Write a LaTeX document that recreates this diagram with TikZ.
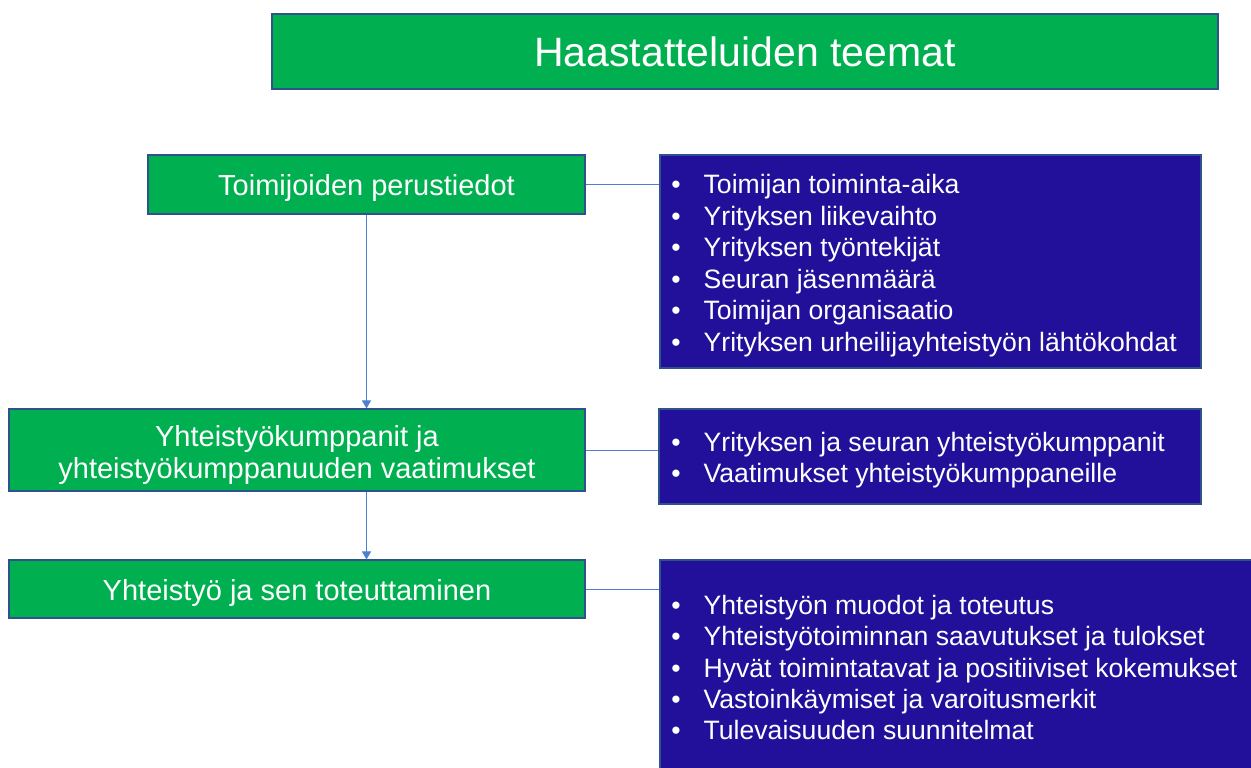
\documentclass[tikz,border=0pt]{standalone}
\usepackage{fontspec}
\setmainfont{Liberation Sans}
\usetikzlibrary{arrows.meta}
\definecolor{gfill}{HTML}{00B050}
\definecolor{pfill}{HTML}{22109B}
\definecolor{bord}{HTML}{2F528F}
\definecolor{conn}{HTML}{4F7FD0}
\tikzset{
  gbox/.style={draw=bord, line width=0.9pt, fill=gfill, text=white, inner sep=0pt, align=center,
    font=\fontsize{21.75}{24}\selectfont},
  pbox/.style={draw=bord, line width=0.9pt, fill=pfill, inner sep=0pt},
  plist/.style={anchor=west, inner sep=0pt, text=white, align=left,
    font=\fontsize{19.95}{23.6}\selectfont},
  conline/.style={draw=conn, line width=0.75pt},
  arr/.style={conline, -{Triangle[width=6.8pt,length=6pt]}}
}
\newcommand{\bl}{\textbullet\hspace{17.3pt}}
\newcommand{\upstrut}[1]{\rule[-4.6pt]{0pt}{#1}}
\begin{document}
\begin{tikzpicture}[x=0.75pt,y=-0.75pt]
\clip (0,0) rectangle (1251,767);
\fill[white] (0,0) rectangle (1251,767);
% title
\node[gbox, minimum width=709.5pt, minimum height=56.25pt, font=\fontsize{30.75}{34}\selectfont] (title) at (745,51.5) {Haastatteluiden teemat};
% green boxes
\node[gbox, minimum width=327.75pt, minimum height=44.25pt] (g1) at (366.5,184.5) {\upstrut{25.2pt}Toimijoiden perustiedot};
\node[gbox, minimum width=432pt, minimum height=61.5pt] (g2) at (297,450) {\begin{tabular}{@{}c@{}}\rule{0pt}{26.3pt}Yhteistyökumppanit ja\\yhteistyökumppanuuden vaatimukset\end{tabular}};
\node[gbox, minimum width=432pt, minimum height=43.5pt] (g3) at (297,589) {\upstrut{26pt}Yhteistyö ja sen toteuttaminen};
% purple boxes
\node[pbox, minimum width=405.75pt, minimum height=159.75pt] (p1) at (930.5,261.5) {};
\node[pbox, minimum width=406.5pt, minimum height=71.25pt] (p2) at (930,456.5) {};
\node[pbox, minimum width=450pt, minimum height=160.5pt] (p3) at (960,667) {};
% lists
\node[plist] (l1) at (671,265.5) {\bl Toimijan toiminta-aika\\\bl Yrityksen liikevaihto\\\bl Yrityksen työntekijät\\\bl Seuran jäsenmäärä\\\bl Toimijan organisaatio\\\bl Yrityksen urheilijayhteistyön lähtökohdat};
\node[plist] (l2) at (671,460) {\bl Yrityksen ja seuran yhteistyökumppanit\\\bl Vaatimukset yhteistyökumppaneille};
\node[plist] (l3) at (671,667.5) {\bl Yhteistyön muodot ja toteutus\\\bl Yhteistyötoiminnan saavutukset ja tulokset\\\bl Hyvät toimintatavat ja positiiviset kokemukset\\\bl Vastoinkäymiset ja varoitusmerkit\\\bl Tulevaisuuden suunnitelmat};
% connectors
\draw[conline] (g1.east) -- (g1.east -| p1.west);
\draw[conline] (g2.east) -- (g2.east -| p2.west);
\draw[conline] (g3.east) -- (g3.east -| p3.west);
\draw[arr] (g1.south) -- (g1.south |- g2.north);
\draw[arr] (g1.south |- g2.south) -- (g1.south |- g3.north);
\end{tikzpicture}
\end{document}
